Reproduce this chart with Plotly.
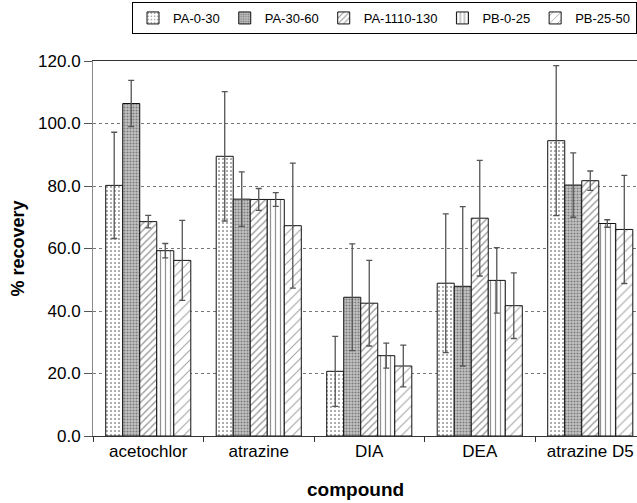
import plotly.graph_objects as go

compounds = ["acetochlor", "atrazine", "DIA", "DEA", "atrazine D5"]
series_names = ["PA-0-30", "PA-30-60", "PA-1110-130", "PB-0-25", "PB-25-50"]

pa_0_30 = [80.2, 89.5, 20.7, 48.9, 94.5]
pa_0_30_err = [17.0, 20.7, 11.2, 22.2, 24.0]
pa_30_60 = [106.4, 75.8, 44.4, 47.9, 80.3]
pa_30_60_err = [7.4, 8.7, 17.1, 25.5, 10.3]
pa_1110_130 = [68.6, 75.7, 42.5, 69.7, 81.7]
pa_1110_130_err = [2.0, 3.5, 13.7, 18.5, 3.1]
pb_0_25 = [59.3, 75.7, 25.7, 49.8, 68.0]
pb_0_25_err = [2.3, 2.2, 4.0, 10.5, 1.2]
pb_25_50 = [56.2, 67.3, 22.4, 41.7, 66.1]
pb_25_50_err = [12.8, 20.0, 6.7, 10.5, 17.3]

y_ticks = [0, 20, 40, 60, 80, 100, 120]
y_tick_labels = ["0.0", "20.0", "40.0", "60.0", "80.0", "100.0", "120.0"]

values = [pa_0_30, pa_30_60, pa_1110_130, pb_0_25, pb_25_50]
errors = [pa_0_30_err, pa_30_60_err, pa_1110_130_err, pb_0_25_err, pb_25_50_err]

patterns = [
    dict(shape=".", size=4, solidity=0.22, fgcolor="#333", bgcolor="white"),
    dict(shape=".", size=3, solidity=0.4, fgcolor="#333", bgcolor="#c4c4c4"),
    dict(shape="/", size=5, solidity=0.28, fgcolor="#333", bgcolor="white"),
    dict(shape="|", size=5, solidity=0.25, fgcolor="#222", bgcolor="white"),
    dict(shape="/", size=7, solidity=0.15, fgcolor="#444", bgcolor="white"),
]

FONT = "Liberation Sans, Arial, sans-serif"

fig = go.Figure()
for name, vals, errs, pat in zip(series_names, values, errors, patterns):
    fig.add_trace(go.Bar(
        name=name, x=compounds, y=vals,
        marker=dict(color="white", line=dict(color="#111", width=1), pattern=pat),
        error_y=dict(type="data", array=errs, visible=True, color="#555",
                     thickness=1.3, width=3),
    ))

fig.update_layout(
    width=637, height=503,
    margin=dict(l=93, r=0, t=61, b=67),
    paper_bgcolor="white", plot_bgcolor="white",
    barmode="group", bargap=0.23, bargroupgap=0,
    font=dict(family=FONT, color="black", size=17),
    showlegend=True,
    legend=dict(orientation="h", x=1, xanchor="right", y=1 + (61 - 2) / 375, yanchor="top",
                bordercolor="black", borderwidth=1, font=dict(size=13, family=FONT),
                itemwidth=30, tracegroupgap=0, bgcolor="white"),
    xaxis=dict(range=[-0.5, 4.423], tickson="boundaries", ticks="outside",
               ticklen=5, tickcolor="#333", showline=True, linecolor="#333",
               mirror=True, showgrid=False, tickfont=dict(size=17)),
    yaxis=dict(range=[0, 120], tickvals=y_ticks, ticktext=y_tick_labels,
               ticks="outside", ticklen=8, tickcolor="#555", showline=True,
               linecolor="#888", showgrid=True, gridcolor="#777", griddash="3px,3px",
               gridwidth=1, zeroline=False, tickfont=dict(size=17),
               title=dict(text="<b>% recovery</b>", font=dict(size=18), standoff=8)),
    annotations=[dict(text="<b>compound</b>", xref="paper", yref="paper",
                      x=(355 - 93) / 544, y=-(490 - 436) / 375,
                      xanchor="center", yanchor="middle",
                      showarrow=False, font=dict(size=19))],
)

fig.write_html("out.html")
